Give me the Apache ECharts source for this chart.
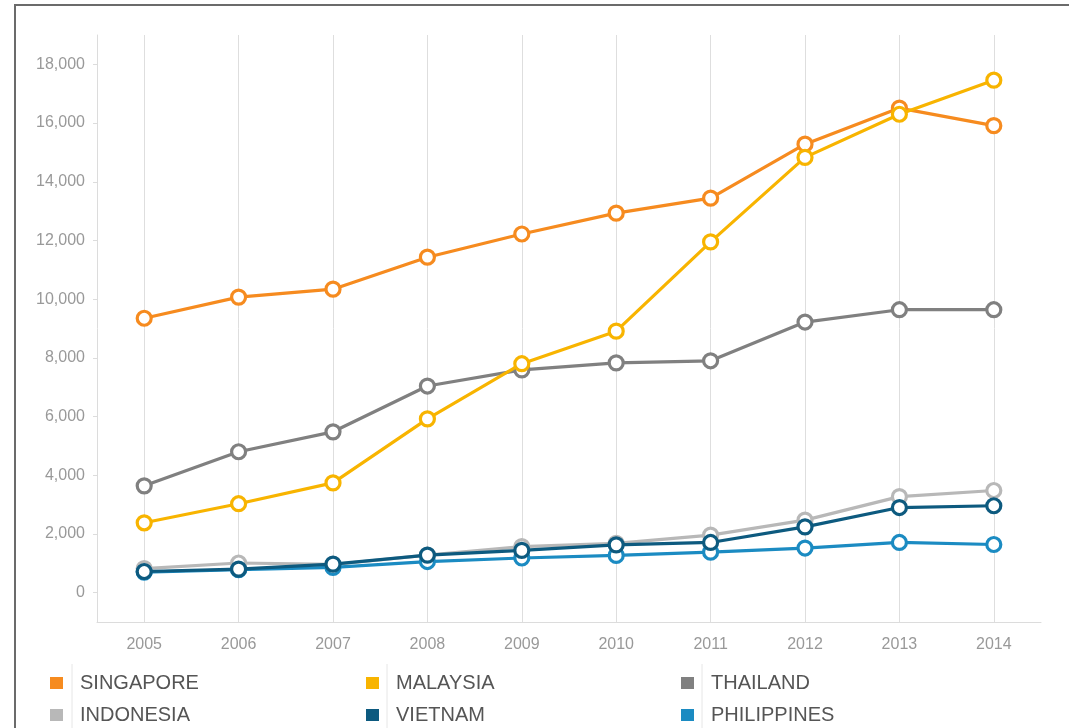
<!DOCTYPE html>
<html><head><meta charset="utf-8">
<script src="https://cdn.jsdelivr.net/npm/echarts@6/dist/echarts.min.js"></script>
<style>html,body{margin:0;padding:0;background:#fff}#c{width:1069px;height:728px}</style>
</head><body><div id="c"></div>
<script>
const years = ['2005','2006','2007','2008','2009','2010','2011','2012','2013','2014'];
const yTicks = [0,2000,4000,6000,8000,10000,12000,14000,16000,18000];
const seriesNames = ['SINGAPORE','MALAYSIA','THAILAND','INDONESIA','VIETNAM','PHILIPPINES'];
const seriesColors = ['#f68b1f','#f8b400','#808080','#b8b8b8','#0d5a7f','#1b8bc2'];
const singapore   = [9350,10070,10340,11430,12220,12930,13440,15280,16510,15910];
const malaysia    = [2380,3030,3740,5920,7800,8910,11950,14830,16300,17460];
const thailand    = [3640,4800,5480,7040,7590,7830,7900,9220,9640,9640];
const indonesia   = [820,1010,960,1280,1570,1680,1960,2470,3270,3480];
const vietnam     = [720,800,970,1280,1440,1630,1710,2240,2900,2960];
const philippines = [700,780,860,1060,1180,1270,1380,1520,1710,1640];
const values = [singapore,malaysia,thailand,indonesia,vietnam,philippines];
const zs = [3,4,2,2,4,3];

const font = "'Liberation Sans', Arial, sans-serif";
const chart = echarts.init(document.getElementById('c'), null, {renderer:'canvas'});

const series = seriesNames.map((n,i)=>({
  name:n, type:'line', data:values[i], z:zs[i],
  symbol:'circle', symbolSize:14,
  color:seriesColors[i],
  lineStyle:{width:3.2,color:seriesColors[i]},
  itemStyle:{color:'#fff',borderWidth:3.2,borderColor:seriesColors[i]},
  emphasis:{disabled:true}, animation:false
}));

const legendPos = [[50,673],[366,673],[681,673],[50,705],[366,705],[681,705]];
const legends = seriesNames.map((n,i)=>({
  data:[{name:n,itemStyle:{color:seriesColors[i],borderWidth:0}}], left:legendPos[i][0], top:legendPos[i][1], orient:'horizontal',
  icon:'rect', itemWidth:13, itemHeight:12, padding:0, selectedMode:false,
  textStyle:{fontFamily:font,fontSize:20,color:'#555',padding:[0,0,0,12],lineHeight:20}
}));

const sepLines = [72,387,702].map(x=>({
  type:'line', shape:{x1:x,y1:664,x2:x,y2:728}, style:{stroke:'#e6e6e6',lineWidth:1}, silent:true
}));

chart.setOption({
  animation:false,
  backgroundColor:'#fff',
  grid:{left:97,right:28,top:35,bottom:106,containLabel:false},
  legend:legends,
  graphic:[
    {type:'polyline', shape:{points:[[15,740],[15,5],[1080,5]]}, style:{stroke:'#6b6b6b',lineWidth:2,fill:null}, silent:true},
    ...sepLines
  ],
  xAxis:{
    type:'category', data:years, boundaryGap:true,
    axisLine:{show:true,onZero:false,lineStyle:{color:'#dcdcdc',width:1}},
    axisTick:{show:false,alignWithLabel:true},
    axisLabel:{color:'#999',fontFamily:font,fontSize:16,margin:15},
    splitLine:{show:true,alignWithLabel:true,lineStyle:{color:'#dedede',width:1}}
  },
  yAxis:{
    type:'value', min:-1000, max:19000, interval:1000,
    axisLine:{show:true,lineStyle:{color:'#dcdcdc',width:1}},
    axisTick:{show:true,length:4,customValues:yTicks,lineStyle:{color:'#dcdcdc'}},
    axisLabel:{customValues:yTicks,color:'#999',fontFamily:font,fontSize:16,margin:12,
      formatter:v=>Number(v).toLocaleString('en-US')},
    splitLine:{show:false}
  },
  series:series
});
</script></body></html>
